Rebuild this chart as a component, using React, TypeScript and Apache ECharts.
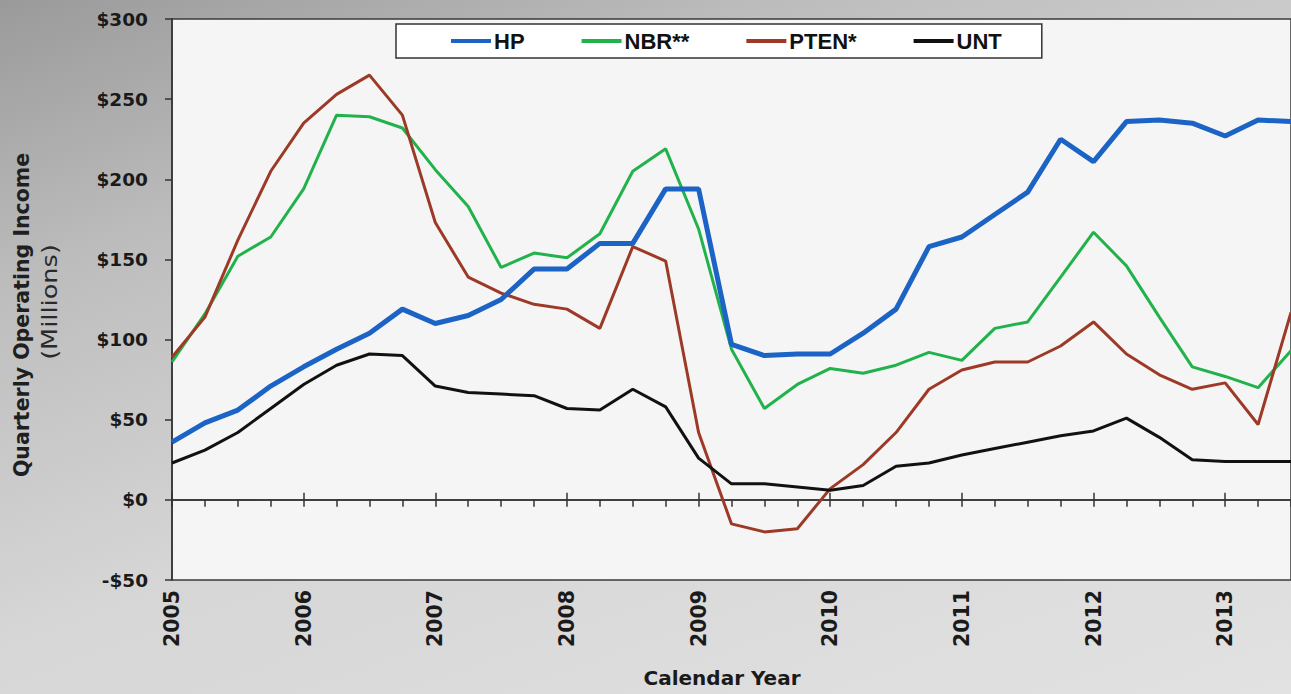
import React, { useEffect, useRef } from "react";
import * as echarts from "echarts";

const years = ["2005", "2006", "2007", "2008", "2009", "2010", "2011", "2012", "2013"];
const quarters = ["Q1", "Q2", "Q3", "Q4"];
const categories: string[] = [];
years.forEach((y) => quarters.forEach((q) => categories.push(y + " " + q)));
categories.splice(35);

const seriesNames = ["HP", "NBR**", "PTEN*", "UNT"];

const hp = [36, 48, 56, 71, 83, 94, 104, 119, 110, 115, 125, 144, 144, 160, 160, 194, 194, 97, 90, 91, 91, 104, 119, 158, 164, 178, 192, 225, 211, 236, 237, 235, 227, 237, 236];
const nbr = [86, 116, 152, 164, 194, 240, 239, 232, 206, 183, 145, 154, 151, 166, 205, 219, 169, 94, 57, 72, 82, 79, 84, 92, 87, 107, 111, 139, 167, 146, 114, 83, 77, 70, 93];
const pten = [89, 114, 162, 205, 235, 253, 265, 240, 173, 139, 129, 122, 119, 107, 158, 149, 42, -15, -20, -18, 7, 22, 42, 69, 81, 86, 86, 96, 111, 91, 78, 69, 73, 47, 117];
const unt = [23, 31, 42, 57, 72, 84, 91, 90, 71, 67, 66, 65, 57, 56, 69, 58, 26, 10, 10, 8, 6, 9, 21, 23, 28, 32, 36, 40, 43, 51, 39, 25, 24, 24, 24];

const yTicks = { min: -50, max: 300, interval: 50 };

const colors = ["#1b63c4", "#22b24c", "#9c3a27", "#111111"];
const widths = [5, 3, 3, 3];

export default function App() {
  const ref = useRef<HTMLDivElement>(null);
  useEffect(() => {
    if (!ref.current) return;
    const chart = echarts.init(ref.current, undefined, { renderer: "svg" });
    const datas = [hp, nbr, pten, unt];
    const bold = "DejaVu Sans";
    chart.setOption({
      animation: false,
      backgroundColor: "transparent",
      grid: {
        left: 172,
        top: 19,
        right: 0,
        bottom: 114,
        show: true,
        backgroundColor: "#f5f5f5",
        borderColor: "#3a3a3a",
        borderWidth: 1.5,
      },
      legend: {
        left: 396,
        top: 24,
        data: seriesNames,
        icon: "rect",
        itemWidth: 40,
        itemHeight: 4,
        itemGap: 57,
        padding: [6, 40, 6, 55],
        backgroundColor: "#ffffff",
        borderColor: "#333333",
        borderWidth: 1.5,
        selectedMode: false,
        textStyle: {
          fontFamily: "Liberation Sans",
          fontWeight: "bold",
          fontSize: 22,
          color: "#111",
          padding: [0, 0, 0, -2],
        },
      },
      xAxis: [
        {
          type: "category",
          data: categories,
          boundaryGap: false,
          position: "bottom",
          axisLine: { show: true, onZero: true, lineStyle: { color: "#333", width: 1.5 } },
          axisTick: { show: true, interval: 0, length: 7, lineStyle: { color: "#333", width: 1.5 } },
          axisLabel: { show: false },
          splitLine: { show: false },
        },
        {
          type: "category",
          data: categories,
          boundaryGap: false,
          position: "top",
          axisLine: { show: true, onZero: true, onZeroAxisIndex: 1, lineStyle: { color: "#333", width: 1.5 } },
          axisTick: { show: true, interval: 3, length: 7, lineStyle: { color: "#333", width: 1.5 } },
          axisLabel: { show: false },
          splitLine: { show: false },
        },
        {
          type: "category",
          data: categories,
          boundaryGap: false,
          position: "bottom",
          axisLine: { show: false, onZero: false },
          axisTick: { show: false },
          axisLabel: {
            show: true,
            interval: 3,
            rotate: 90,
            margin: 10,
            fontFamily: bold,
            fontWeight: "bold",
            fontSize: 20.5,
            color: "#1a1a1a",
            formatter: (v: string) => v.slice(0, 4),
          },
          splitLine: { show: false },
        },
      ],
      yAxis: [
        {
          type: "value",
          min: yTicks.min,
          max: yTicks.max,
          interval: yTicks.interval,
          position: "left",
          axisLine: { show: true, onZero: false, lineStyle: { color: "#333", width: 1.5 } },
          axisTick: { show: true, length: 7, lineStyle: { color: "#333", width: 1.5 } },
          splitLine: { show: false },
          axisLabel: {
            margin: 24,
            fontFamily: bold,
            fontWeight: "bold",
            fontSize: 18.5,
            color: "#1a1a1a",
            formatter: (v: number) => (v < 0 ? "-$" + Math.abs(v) : "$" + v),
          },
        },
        {
          type: "value",
          min: yTicks.min,
          max: yTicks.max,
          interval: yTicks.interval,
          show: false,
        },
      ],
      series: seriesNames.map((name, i) => ({
        name,
        type: "line",
        data: datas[i],
        xAxisIndex: 0,
        yAxisIndex: 0,
        showSymbol: false,
        symbol: "none",
        color: colors[i],
        lineStyle: { color: colors[i], width: widths[i] },
        z: 3 + (i === 0 ? 1 : 0),
      })),
      graphic: [
        {
          type: "text",
          x: 22,
          y: 315,
          rotation: Math.PI / 2,
          style: {
            text: "Quarterly Operating Income",
            font: "bold 20.5px 'DejaVu Sans'",
            fill: "#1f1f1f",
            align: "center",
            verticalAlign: "middle",
          },
        },
        {
          type: "text",
          x: 50,
          y: 302,
          rotation: Math.PI / 2,
          scaleX: 1.22,
          style: {
            text: "(Millions)",
            font: "21px 'DejaVu Sans'",
            fill: "#2a2a2a",
            align: "center",
            verticalAlign: "middle",
          },
        },
        {
          type: "text",
          x: 722,
          y: 678,
          style: {
            text: "Calendar Year",
            font: "bold 20px 'DejaVu Sans'",
            fill: "#1a1a1a",
            align: "center",
            verticalAlign: "middle",
          },
        },
      ],
    });
    return () => chart.dispose();
  }, []);
  return (
    <div
      style={{
        position: "fixed",
        left: 0,
        top: 0,
        width: 1291,
        height: 694,
        background:
          "linear-gradient(160deg, #9a9a9a 0%, #bdbdbd 25%, #d6d6d6 55%, #e2e2e2 100%)",
      }}
    >
      <div ref={ref} style={{ width: 1291, height: 694 }} />
    </div>
  );
}
